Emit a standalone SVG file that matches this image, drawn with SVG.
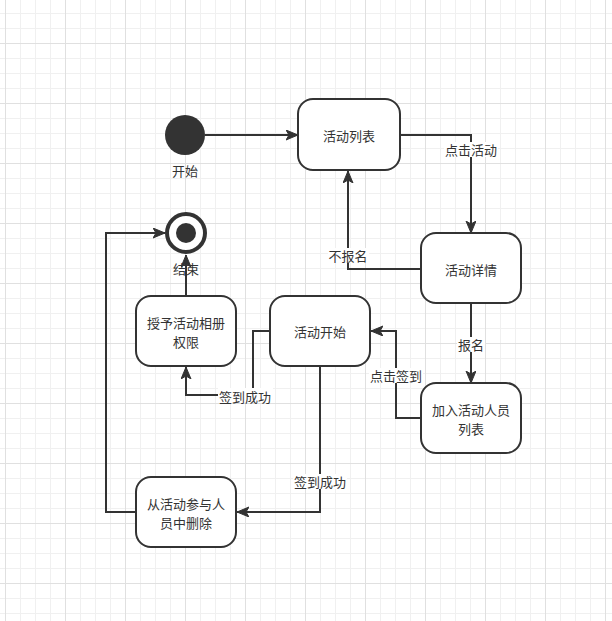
<svg xmlns="http://www.w3.org/2000/svg" width="612" height="621" viewBox="0 0 612 621">
<style>
.node rect{fill:#fff;stroke:#333;stroke-width:2}
.lbl{font-family:"Noto Sans CJK SC","Noto Sans",sans-serif;font-size:13px;fill:#333;text-anchor:middle;dominant-baseline:central}
.edge path{fill:none;stroke:#333;stroke-width:2}
.elbl rect{fill:#fff}
</style>
<defs>
<pattern id="minor" x="5" y="13" width="15" height="15" patternUnits="userSpaceOnUse">
<path d="M0.5,0 V15 M0,0.5 H15" stroke="#f0f0f0" stroke-width="1" fill="none"/>
</pattern>
<pattern id="major" x="5" y="43" width="60" height="60" patternUnits="userSpaceOnUse">
<path d="M0.5,0 V60 M0,0.5 H60" stroke="#e0e0e0" stroke-width="1" fill="none"/>
</pattern>
<marker id="arr" markerUnits="userSpaceOnUse" markerWidth="14" markerHeight="12" refX="12" refY="5" orient="auto" viewBox="0 0 14 12">
<path d="M0,0 L12,5 L0,10 L3,5 Z" fill="#333" stroke="#333" stroke-width="1"/>
</marker>
</defs>
<rect width="612" height="621" fill="#fff"/>
<rect width="612" height="621" fill="url(#minor)"/>
<rect width="612" height="621" fill="url(#major)"/>

<g id="edges" class="edge">
<path d="M205,135 L298,135" marker-end="url(#arr)"/>
<path d="M400,135 L471,135 L471,233" marker-end="url(#arr)"/>
<path d="M421,269 L348,269 L348,171" marker-end="url(#arr)"/>
<path d="M471,303 L471,383" marker-end="url(#arr)"/>
<path d="M421,418 L396,418 L396,331 L371,331" marker-end="url(#arr)"/>
<path d="M270,331 L253,331 L253,395 L186,395 L186,367" marker-end="url(#arr)"/>
<path d="M186,296 L186,255" marker-end="url(#arr)"/>
<path d="M320,366 L320,512 L237,512" marker-end="url(#arr)"/>
<path d="M136,512 L106,512 L106,233 L165,233" marker-end="url(#arr)"/>
</g>
<g id="edge-labels" class="elbl">
<rect x="444" y="142" width="54" height="15"/><text class="lbl" x="471" y="149">点击活动</text>
<rect x="328" y="248" width="41" height="15"/><text class="lbl" x="348" y="255">不报名</text>
<rect x="457" y="337" width="28" height="15"/><text class="lbl" x="471" y="344">报名</text>
<rect x="369" y="368" width="54" height="15"/><text class="lbl" x="396" y="375">点击签到</text>
<rect x="218" y="388" width="55" height="15"/><text class="lbl" x="245" y="396">签到成功</text>
<rect x="293" y="474" width="54" height="15"/><text class="lbl" x="320" y="481">签到成功</text>
</g>

<g id="start">
<circle cx="185" cy="135" r="20" fill="#333"/>
<text class="lbl" x="185" y="170">开始</text>
</g>
<g id="end">
<circle cx="186" cy="233" r="19" fill="#fff" stroke="#333" stroke-width="4"/>
<circle cx="186" cy="233" r="10" fill="#333"/>
<text class="lbl" x="186" y="268">结束</text>
</g>
<g id="list" class="node">
<rect x="298" y="99" width="102" height="71" rx="15"/>
<text class="lbl" x="349" y="135">活动列表</text>
</g>
<g id="detail" class="node">
<rect x="421" y="233" width="100" height="70" rx="15"/>
<text class="lbl" x="471" y="269">活动详情</text>
</g>
<g id="join" class="node">
<rect x="421" y="383" width="100" height="70" rx="15"/>
<text class="lbl" x="471" y="409">加入活动人员<tspan x="471" dy="19">列表</tspan></text>
</g>
<g id="begin" class="node">
<rect x="270" y="296" width="100" height="70" rx="15"/>
<text class="lbl" x="320" y="331">活动开始</text>
</g>
<g id="grant" class="node">
<rect x="136" y="296" width="100" height="70" rx="15"/>
<text class="lbl" x="186" y="322">授予活动相册<tspan x="186" dy="19">权限</tspan></text>
</g>
<g id="remove" class="node">
<rect x="136" y="477" width="100" height="70" rx="15"/>
<text class="lbl" x="186" y="503">从活动参与人<tspan x="186" dy="19">员中删除</tspan></text>
</g>
</svg>
